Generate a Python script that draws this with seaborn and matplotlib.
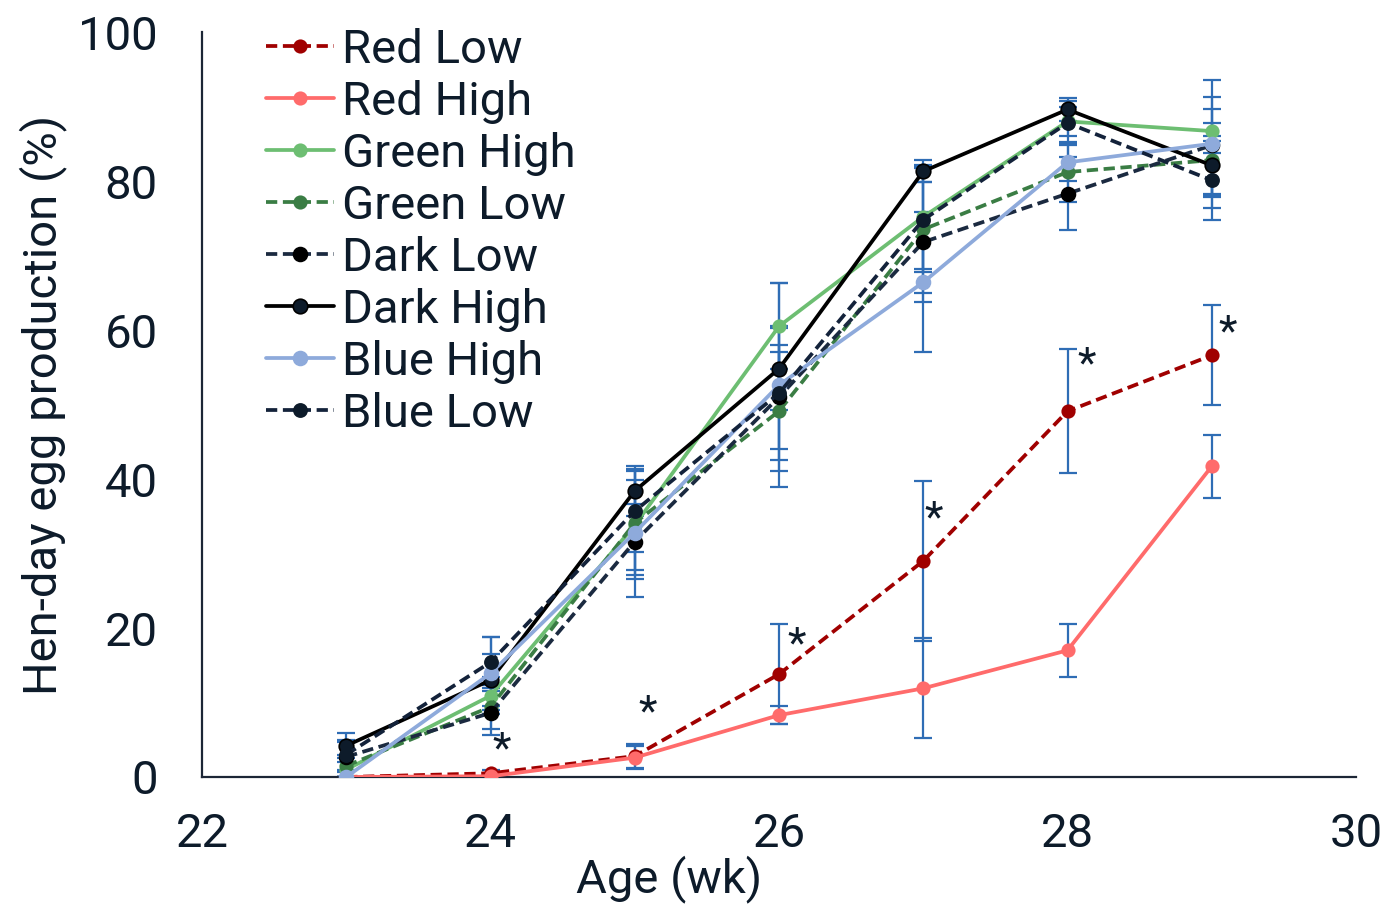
import numpy as np
import pandas as pd
import matplotlib
matplotlib.use("Agg")
import matplotlib.pyplot as plt
import seaborn as sns

# ---------------- data ----------------
ages = [23, 24, 25, 26, 27, 28, 29]

red_low = [0.0, 0.5, 2.8, 13.8, 29.0, 49.1, 56.6]
red_low_err = [0.0, 0.5, 1.6, 6.7, 10.7, 8.3, 6.7]
red_high = [0.0, 0.1, 2.6, 8.3, 11.9, 17.0, 41.7]
red_high_err = [0.0, 0.0, 1.5, 1.2, 6.7, 3.6, 4.2]
green_high = [1.0, 10.9, 33.8, 60.5, 75.2, 88.0, 86.7]
green_high_err = [1.0, 2.5, 6.0, 5.8, 7.0, 2.0, 3.0]
green_low = [1.5, 9.4, 34.1, 49.1, 73.5, 81.2, 82.8]
green_low_err = [1.5, 3.0, 7.0, 8.0, 8.5, 4.0, 5.0]
dark_low = [2.7, 8.6, 31.6, 51.0, 71.8, 78.3, 84.8]
dark_low_err = [2.0, 3.0, 5.0, 7.0, 8.0, 4.9, 6.5]
dark_high = [4.2, 13.0, 38.4, 54.8, 81.3, 89.6, 82.1]
dark_high_err = [1.7, 3.5, 3.3, 5.5, 1.5, 1.5, 4.0]
blue_high = [0.0, 13.9, 32.8, 52.6, 66.4, 82.5, 85.0]
blue_high_err = [0.0, 4.9, 8.6, 13.7, 9.4, 2.5, 8.6]
blue_low = [3.0, 15.4, 35.7, 51.5, 74.8, 87.8, 80.1]
blue_low_err = [2.0, 3.4, 5.5, 9.0, 7.0, 3.0, 5.3]

series_names = ["Red Low", "Red High", "Green High", "Green Low",
                "Dark Low", "Dark High", "Blue High", "Blue Low"]

# significance markers (label positions)
star_ages = [24.08, 25.09, 26.12, 27.07, 28.13, 29.11]
star_y = [3.6, 8.6, 17.7, 34.7, 55.3, 59.6]

x_ticks = [22, 24, 26, 28, 30]
y_ticks = [0, 20, 40, 60, 80, 100]

# ---------------- style ----------------
sns.set_theme(style="white")
plt.rcParams['font.family'] = ['Roboto', 'DejaVu Sans']
text_col = "#0d1b2a"
plt.rcParams['text.color'] = text_col
plt.rcParams['axes.labelcolor'] = text_col
plt.rcParams['xtick.color'] = text_col
plt.rcParams['ytick.color'] = text_col

values = [red_low, red_high, green_high, green_low, dark_low, dark_high, blue_high, blue_low]
errors = [red_low_err, red_high_err, green_high_err, green_low_err,
          dark_low_err, dark_high_err, blue_high_err, blue_low_err]

dash = (0, (3, 1.5))
styles = {
    "Red Low":    dict(color="#a00000", ls=dash, mfc="#a00000", mec="#a00000", ms=9),
    "Red High":   dict(color="#ff6b6b", ls="-", mfc="#ff6b6b", mec="#ff6b6b", ms=9),
    "Green High": dict(color="#6dbe72", ls="-", mfc="#6dbe72", mec="#6dbe72", ms=9),
    "Green Low":  dict(color="#3a7d44", ls=dash, mfc="#3a7d44", mec="#3a7d44", ms=9),
    "Dark Low":   dict(color="#1b2a40", ls=dash, mfc="#000000", mec="#000000", ms=10),
    "Dark High":  dict(color="#000000", ls="-", mfc="#0d1b2a", mec="#000000", ms=10.5),
    "Blue High":  dict(color="#8eaadb", ls="-", mfc="#8eaadb", mec="#8eaadb", ms=10),
    "Blue Low":   dict(color="#13223a", ls=dash, mfc="#0d1b2a", mec="#0d1b2a", ms=9.5),
}

fig = plt.figure(figsize=(13.86, 9.05), dpi=100)
ax = fig.add_axes([202 / 1386, 1 - 777 / 905, 1154 / 1386, 745 / 905])

err_col = "#2f6db5"
for name, vals, errs in zip(series_names, values, errors):
    ax.errorbar(ages, vals, yerr=errs, fmt="none", ecolor=err_col,
                elinewidth=1.6, capsize=6.5, capthick=1.6, zorder=1)

for i, (name, vals) in enumerate(zip(series_names, values)):
    st = styles[name]
    df = pd.DataFrame({"Age": ages, "Value": vals})
    sns.lineplot(data=df, x="Age", y="Value", ax=ax, color=st["color"],
                 linestyle=st["ls"], linewidth=2.7, marker="o",
                 markersize=st["ms"], markerfacecolor=st["mfc"],
                 markeredgecolor=st["mec"], markeredgewidth=1.2,
                 label=name, zorder=3 + i)

for sx, sy in zip(star_ages, star_y):
    ax.text(sx, sy, "*", fontsize=31, ha="center", va="center", color=text_col)

ax.set_xlim(22, 30)
ax.set_ylim(0, 100)
ax.set_xticks(x_ticks)
ax.set_yticks(y_ticks)
ax.tick_params(axis="both", labelsize=34, length=11, width=1.5, direction="out",
               color="#1c2636")
ax.tick_params(axis="y", pad=21)
ax.tick_params(axis="x", pad=14)
for s in ["top", "right"]:
    ax.spines[s].set_visible(False)
for s in ["left", "bottom"]:
    ax.spines[s].set_color("#1c2636")
    ax.spines[s].set_linewidth(1.6)

ax.set_xlabel("Age (wk)", fontsize=34)
ax.set_ylabel("Hen-day egg production (%)", fontsize=34)
ax.xaxis.set_label_coords(0.405, -0.105)
ax.yaxis.set_label_coords(-0.117, 0.5)

leg = ax.legend(loc="upper left", bbox_to_anchor=(0.039, 1.031), frameon=False,
                fontsize=34, handlelength=1.45, handletextpad=0.17,
                labelspacing=0.17, borderaxespad=0.0)

fig.savefig("out.png", dpi=100)
